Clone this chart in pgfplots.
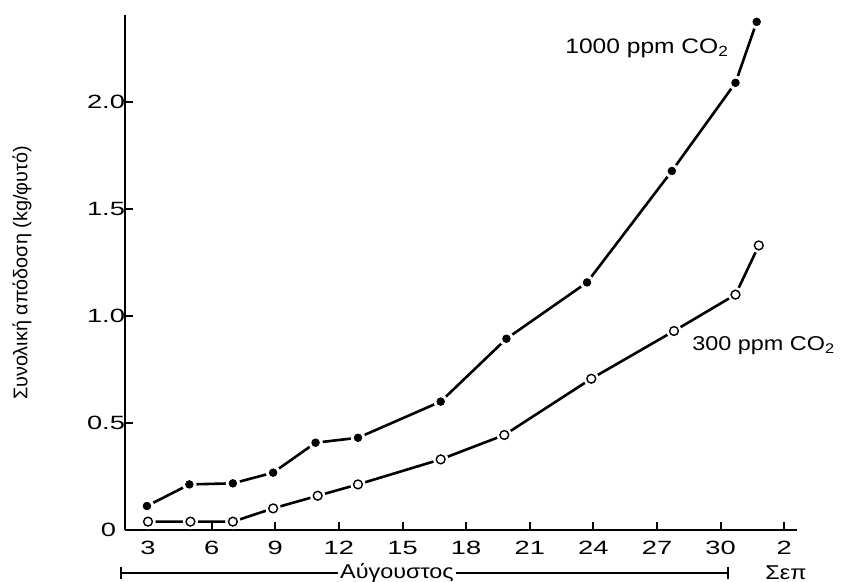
\documentclass[border=0pt]{standalone}
\usepackage{fontspec}
\setmainfont{Liberation Sans}
\newfontfamily\widetick[FakeStretch=1.42]{Liberation Sans}
\newfontfamily\widetext[FakeStretch=1.17]{Liberation Sans}
\usepackage{pgfplots}
\pgfplotsset{compat=1.18}
\begin{document}
\begin{tikzpicture}
\useasboundingbox (-62.5pt,-26pt) rectangle (358.5pt,265pt);
\begin{axis}[
  scale only axis,
  width=336pt, height=257.5pt,
  xmin=1.915, xmax=33.6, ymin=0, ymax=2.407,
  axis x line=bottom, axis y line=left,
  axis line style={-, line width=1.1pt},
  tick align=inside,
  major tick length=4pt,
  tick style={line width=1pt, black},
  xtick={3,6,9,12,15,18,21,24,27,30,33},
  xticklabels={3,6,9,12,15,18,21,24,27,30,2},
  ytick={0.5,1,1.5,2},
  yticklabels={0.5,1.0,1.5,2.0},
  extra y ticks={0},
  extra y tick labels={0},
  extra y tick style={major tick length=0pt, yticklabel style={xshift=-4.5pt}},
  ticklabel style={font=\widetick\fontsize{9.6}{11}\selectfont},
  xticklabel style={yshift=-2pt},
  yticklabel style={xshift=3.5pt},
  /pgf/number format/assume math mode=true,
  clip=false,
]
\addplot[black, line width=1.3pt] coordinates {
(2.95,0.112) (4.95,0.213) (7.0,0.218) (8.9,0.268) (10.9,0.408) (12.9,0.431)
(16.8,0.600) (19.9,0.894) (23.7,1.157) (27.7,1.678) (30.7,2.09) (31.7,2.375)};
\addplot[black, line width=1.3pt] coordinates {
(3.0,0.039) (5.0,0.039) (7.0,0.039) (8.9,0.101) (11.0,0.160) (12.9,0.213)
(16.8,0.330) (19.8,0.444) (23.9,0.707) (27.8,0.930) (30.7,1.10) (31.8,1.33)};
% white halos to give the gap between line and marks
\addplot[only marks, mark=*, mark size=3.4pt, white, mark options={draw=white, fill=white}] coordinates {
(2.95,0.112) (4.95,0.213) (7.0,0.218) (8.9,0.268) (10.9,0.408) (12.9,0.431)
(16.8,0.600) (19.9,0.894) (23.7,1.157) (27.7,1.678) (30.7,2.09) (31.7,2.375)};
\addplot[only marks, mark=*, mark size=3.6pt, white, mark options={draw=white, fill=white}] coordinates {
(3.0,0.039) (5.0,0.039) (7.0,0.039) (8.9,0.101) (11.0,0.160) (12.9,0.213)
(16.8,0.330) (19.8,0.444) (23.9,0.707) (27.8,0.930) (30.7,1.10) (31.8,1.33)};
\addplot[only marks, mark=*, mark size=1.9pt, mark options={draw=black, fill=black}] coordinates {
(2.95,0.112) (4.95,0.213) (7.0,0.218) (8.9,0.268) (10.9,0.408) (12.9,0.431)
(16.8,0.600) (19.9,0.894) (23.7,1.157) (27.7,1.678) (30.7,2.09) (31.7,2.375)};
\addplot[only marks, mark=o, mark size=2.2pt, mark options={draw=black, fill=white, line width=0.7pt}] coordinates {
(3.0,0.039) (5.0,0.039) (7.0,0.039) (8.9,0.101) (11.0,0.160) (12.9,0.213)
(16.8,0.330) (19.8,0.444) (23.9,0.707) (27.8,0.930) (30.7,1.10) (31.8,1.33)};
\end{axis}
% annotations (pixel -> pt: x=(px-125)/2, y=(530-py)/2)
\node[anchor=west, font=\widetext\fontsize{10.5}{12}\selectfont, inner sep=0pt] at (220pt,241pt) {1000 ppm CO\textsubscript{2}};
\node[anchor=west, font=\widetext\fontsize{10}{12}\selectfont, inner sep=0pt] at (283.5pt,92pt) {300 ppm CO\textsubscript{2}};
\node[rotate=90, font=\fontsize{9.9}{11}\selectfont, inner sep=0pt] at (-51.5pt,128.5pt) {Συνολική απόδοση (kg/φυτό)};
\draw[line width=0.6pt] (-2pt,-21.5pt) -- (301.5pt,-21.5pt);
\draw[line width=0.6pt] (-2pt,-18.5pt) -- (-2pt,-24.5pt);
\draw[line width=0.6pt] (301.5pt,-18.5pt) -- (301.5pt,-24.5pt);
\node[fill=white, inner sep=1pt, font=\widetext\fontsize{10}{12}\selectfont] at (136pt,-21.5pt) {Αύγουστος};
\node[font=\widetext\fontsize{10}{12}\selectfont, inner sep=0pt] at (330.5pt,-21.5pt) {Σεπ};
\end{tikzpicture}
\end{document}
